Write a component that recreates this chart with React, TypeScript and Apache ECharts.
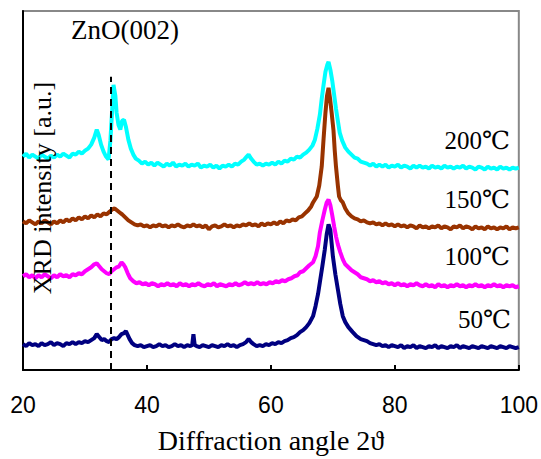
import React, { useEffect, useRef } from "react";
import * as echarts from "echarts";

// 2θ (deg) vs XRD intensity (a.u., offset traces)
const series200: number[][] = [[20,214],[20.5,217],[21,213],[21.5,216],[22,214],[22.5,212],[23,216],[23.5,214],[24,212],[24.5,215],[25,213],[25.5,216],[26,214],[26.5,217],[27,215],[27.5,213],[28,217],[28.5,216],[29,219],[29.5,217],[30,220],[30.5,222],[31,226],[31.5,233],[31.9,241],[32.2,236],[32.6,226],[33,219],[33.4,214],[33.8,211],[34.1,230],[34.4,262],[34.6,286],[34.9,275],[35.1,258],[35.4,246],[35.7,241],[36,250],[36.3,251],[36.6,244],[37,231],[37.4,222],[37.8,216],[38.2,212],[38.7,210],[39.2,207],[39.7,209],[40.2,206],[40.7,208],[41.2,205],[41.7,208],[42.2,206],[42.7,204],[43.2,207],[43.7,205],[44.2,208],[44.7,204],[45.2,206],[45.7,205],[46.2,207],[46.7,204],[47.2,206],[47.7,205],[48.2,207],[48.7,203],[49.2,205],[49.7,204],[50.2,206],[50.7,203],[51.2,205],[51.7,202],[52.2,205],[52.7,204],[53.2,206],[53.7,204],[54.2,207],[54.7,206],[55.2,209],[55.7,211],[56.1,214],[56.4,216],[56.8,212],[57.2,209],[57.7,206],[58.2,207],[58.7,205],[59.2,207],[59.7,206],[60.2,208],[60.7,206],[61.2,209],[61.7,207],[62.2,210],[62.7,209],[63.2,212],[63.7,211],[64.2,214],[64.7,213],[65.2,216],[65.7,218],[66.2,221],[66.7,225],[67.1,231],[67.5,242],[67.9,256],[68.2,272],[68.5,286],[68.8,299],[69.1,306],[69.3,309],[69.6,301],[69.9,290],[70.2,276],[70.5,262],[70.8,250],[71.1,238],[71.5,230],[72,223],[72.5,219],[73,216],[73.5,213],[74,212],[74.5,209],[75,208],[75.5,207],[76,205],[76.5,207],[77,204],[77.5,206],[78,204],[78.5,206],[79,203],[79.5,205],[80,204],[80.5,206],[81,203],[81.5,205],[82,204],[82.5,202],[83,205],[83.5,203],[84,205],[84.5,203],[85,204],[85.5,202],[86,205],[86.5,203],[87,204],[87.5,202],[88,205],[88.5,203],[89,204],[89.5,202],[90,204],[90.5,203],[91,205],[91.5,202],[92,204],[92.5,203],[93,201],[93.5,204],[94,203],[94.5,201],[95,204],[95.5,202],[96,203],[96.5,201],[97,204],[97.5,202],[98,203],[98.5,201],[99,203],[99.5,202],[100,203]];

const series150: number[][] = [[20,149],[20.5,147],[21,150],[21.5,148],[22,146],[22.5,149],[23,147],[23.5,150],[24,148],[24.5,146],[25,149],[25.5,147],[26,150],[26.5,148],[27,151],[27.5,149],[28,152],[28.5,150],[29,153],[29.5,151],[30,154],[30.5,152],[31,155],[31.5,153],[32,156],[32.5,154],[33,157],[33.5,156],[34,159],[34.4,161],[34.8,162],[35.2,160],[35.6,158],[36,156],[36.5,153],[37,150],[37.5,148],[38,146],[38.5,145],[39,146],[39.5,144],[40,145],[40.5,143],[41,145],[41.5,144],[42,146],[42.5,144],[43,145],[43.5,143],[44,145],[44.5,144],[45,146],[45.5,144],[46,143],[46.5,145],[47,144],[47.5,146],[48,144],[48.5,145],[49,143],[49.5,145],[50,141],[50.5,144],[51,145],[51.5,143],[52,144],[52.5,146],[53,144],[53.5,145],[54,143],[54.5,145],[55,144],[55.5,146],[56,145],[56.5,147],[57,145],[57.5,146],[58,144],[58.5,147],[59,145],[59.5,147],[60,146],[60.5,148],[61,146],[61.5,149],[62,147],[62.5,150],[63,149],[63.5,151],[64,150],[64.5,153],[65,154],[65.5,157],[66,160],[66.5,164],[66.8,168],[67.1,171],[67.4,174],[67.8,185],[68.2,204],[68.5,232],[68.8,258],[69.05,275],[69.3,283],[69.55,272],[69.8,258],[70.1,240],[70.3,220],[70.5,204],[70.8,185],[71,174],[71.3,170],[71.6,168],[72,162],[72.5,157],[73,154],[73.5,152],[74,151],[74.5,149],[75,150],[75.5,148],[76,147],[76.5,148],[77,146],[77.5,147],[78,145],[78.5,147],[79,145],[79.5,146],[80,144],[80.5,146],[81,144],[81.5,145],[82,143],[82.5,145],[83,144],[83.5,142],[84,145],[84.5,143],[85,144],[85.5,142],[86,144],[86.5,143],[87,145],[87.5,142],[88,144],[88.5,143],[89,141],[89.5,144],[90,143],[90.5,145],[91,142],[91.5,144],[92,143],[92.5,141],[93,144],[93.5,142],[94,143],[94.5,141],[95,144],[95.5,142],[96,143],[96.5,141],[97,143],[97.5,142],[98,144],[98.5,141],[99,143],[99.5,142],[100,143]];

const series100: number[][] = [[20,94],[20.5,96],[21,93],[21.5,95],[22,92],[22.5,95],[23,93],[23.5,96],[24,94],[24.5,92],[25,95],[25.5,93],[26,96],[26.5,94],[27,95],[27.5,93],[28,96],[28.5,95],[29,97],[29.5,96],[30,99],[30.5,101],[31,103],[31.5,106],[31.9,107],[32.3,104],[32.7,101],[33.1,99],[33.5,97],[33.9,96],[34.3,99],[34.7,101],[35.1,103],[35.5,104],[35.9,108],[36.2,106],[36.5,103],[36.9,97],[37.3,92],[37.8,89],[38.3,87],[38.8,88],[39.3,86],[39.8,87],[40.3,85],[40.8,87],[41.3,86],[41.8,84],[42.3,86],[42.8,85],[43.3,87],[43.8,85],[44.3,86],[44.8,84],[45.3,87],[45.8,85],[46.3,86],[46.8,84],[47.3,86],[47.8,85],[48.3,87],[48.8,85],[49.3,84],[49.8,86],[50.3,85],[50.8,87],[51.3,84],[51.8,86],[52.3,85],[52.8,84],[53.3,86],[53.8,85],[54.3,87],[54.8,85],[55.3,86],[55.8,88],[56.3,86],[56.8,87],[57.3,86],[57.8,88],[58.3,86],[58.8,87],[59.3,86],[59.8,88],[60.3,87],[60.8,89],[61.3,88],[61.8,90],[62.3,89],[62.8,91],[63.3,92],[63.8,94],[64.3,95],[64.7,98],[65.2,99],[65.7,102],[66.2,105],[66.8,108],[67.2,114],[67.6,124],[67.9,138],[68.3,150],[68.7,161],[69,168],[69.3,171],[69.6,165],[69.9,155],[70.2,144],[70.5,134],[70.8,126],[71.2,118],[71.6,111],[72,106],[72.5,103],[73,100],[73.5,98],[74,96],[74.5,93],[75,92],[75.5,91],[76,89],[76.5,90],[77,88],[77.5,89],[78,87],[78.5,88],[79,86],[79.5,87],[80,85],[80.5,87],[81,85],[81.5,86],[82,84],[82.5,86],[83,85],[83.5,87],[84,85],[84.5,84],[85,86],[85.5,84],[86,85],[86.5,83],[87,86],[87.5,84],[88,85],[88.5,83],[89,85],[89.5,84],[90,86],[90.5,84],[91,85],[91.5,83],[92,85],[92.5,84],[93,86],[93.5,84],[94,85],[94.5,83],[95,85],[95.5,84],[96,86],[96.5,84],[97,85],[97.5,83],[98,85],[98.5,84],[99,85],[99.5,83],[100,84]];

const series50: number[][] = [[20,26],[20.5,24],[21,27],[21.5,25],[22,26],[22.5,24],[23,27],[23.5,25],[24,26],[24.5,28],[25,25],[25.5,27],[26,26],[26.5,24],[27,27],[27.5,26],[28,28],[28.5,26],[29,28],[29.5,27],[30,29],[30.5,28],[31,30],[31.5,32],[31.9,36],[32.3,33],[32.7,30],[33.1,31],[33.5,29],[33.9,28],[34.3,31],[34.7,32],[35.1,31],[35.5,33],[35.9,36],[36.3,37],[36.6,39],[36.9,35],[37.2,31],[37.6,27],[38,25],[38.5,24],[39,25],[39.5,23],[40,24],[40.5,25],[41,23],[41.5,24],[42,26],[42.5,24],[43,25],[43.5,23],[44,24],[44.5,26],[45,24],[45.5,25],[46,23],[46.5,25],[47,24],[47.3,25],[47.5,36],[47.7,25],[48,24],[48.5,23],[49,25],[49.5,24],[50,23],[50.5,25],[51,24],[51.5,23],[52,25],[52.5,24],[53,26],[53.5,24],[54,25],[54.5,23],[55,25],[55.5,26],[56,28],[56.4,31],[56.8,28],[57.2,26],[57.7,24],[58.2,25],[58.7,24],[59.2,26],[59.7,25],[60.2,27],[60.7,26],[61.2,28],[61.7,27],[62.2,29],[62.7,30],[63.2,32],[63.7,33],[64.2,35],[64.7,38],[65.2,40],[65.7,43],[66.2,47],[66.8,54],[67.2,64],[67.6,76],[67.9,88],[68.3,104],[68.7,121],[69,136],[69.3,146],[69.6,140],[69.8,127],[70,114],[70.4,96],[70.8,81],[71.2,66],[71.6,54],[72,48],[72.5,43],[73.2,38],[73.8,34],[74.5,31],[75.5,29],[76,27],[76.5,26],[77,25],[77.5,26],[78,24],[78.5,25],[79,23],[79.5,25],[80,24],[80.5,23],[81,25],[81.5,22],[82,24],[82.5,23],[83,25],[83.5,22],[84,24],[84.5,23],[85,22],[85.5,24],[86,23],[86.5,25],[87,22],[87.5,24],[88,23],[88.5,22],[89,24],[89.5,23],[90,25],[90.5,22],[91,24],[91.5,23],[92,22],[92.5,24],[93,23],[93.5,22],[94,24],[94.5,23],[95,22],[95.5,24],[96,23],[96.5,22],[97,24],[97.5,23],[98,22],[98.5,24],[99,23],[99.5,22],[100,23]];

const seriesNames = ["200℃", "150℃", "100℃", "50℃"];
const seriesColors = ["#00FFFF", "#993300", "#FF00FF", "#000080"];
const xTicks = [20, 40, 60, 80, 100];
const zno002Angle = 34.2;
const zno002Line: number[][] = [[zno002Angle, 0], [zno002Angle, 294]];

const SERIF = '"Liberation Serif", "DejaVu Serif", "Times New Roman", serif';

export default function App() {
  const ref = useRef<HTMLDivElement>(null);
  useEffect(() => {
    if (!ref.current) return;
    const chart = echarts.init(ref.current, undefined, { renderer: "svg" });
    const allData = [series200, series150, series100, series50];
    chart.setOption({
      animation: false,
      backgroundColor: "#ffffff",
      grid: {
        left: 23, right: 22, top: 11, bottom: 89,
        show: true, borderColor: "#888888", borderWidth: 2, backgroundColor: "transparent",
      },
      xAxis: {
        type: "value", min: xTicks[0], max: xTicks[xTicks.length - 1], interval: 20,
        axisLine: { show: true, onZero: false, lineStyle: { color: "#000", width: 2 } },
        axisTick: { show: true, inside: true, length: 5, lineStyle: { color: "#000", width: 2 } },
        axisLabel: {
          color: "#000", fontSize: 23, margin: 23,
          fontFamily: '"Liberation Sans", Arial, sans-serif',
        },
        splitLine: { show: false },
      },
      yAxis: {
        type: "value", min: 0, max: 360,
        axisLine: { show: true, lineStyle: { color: "#000", width: 2 } },
        axisTick: { show: false }, axisLabel: { show: false }, splitLine: { show: false },
      },
      graphic: [
        { type: "text", x: 42, y: 188, rotation: Math.PI / 2, z: 100,
          style: { text: "XRD intensity [a.u.]", fill: "#000", font: `26px ${SERIF}`, align: "center", verticalAlign: "middle" } },
        { type: "text", x: 271, y: 440, z: 100,
          style: { text: "Diffraction angle 2ϑ", fill: "#000", font: `28px ${SERIF}`, align: "center", verticalAlign: "middle" } },
        { type: "text", x: 125, y: 30, z: 100,
          style: { text: "ZnO(002)", fill: "#000", font: `27px ${SERIF}`, align: "center", verticalAlign: "middle" } },
        { type: "text", x: 510, y: 140, z: 100,
          style: { text: seriesNames[0], fill: "#000", font: `25px ${SERIF}`, align: "right", verticalAlign: "middle" } },
        { type: "text", x: 510, y: 199, z: 100,
          style: { text: seriesNames[1], fill: "#000", font: `25px ${SERIF}`, align: "right", verticalAlign: "middle" } },
        { type: "text", x: 510, y: 256, z: 100,
          style: { text: seriesNames[2], fill: "#000", font: `25px ${SERIF}`, align: "right", verticalAlign: "middle" } },
        { type: "text", x: 511, y: 319, z: 100,
          style: { text: seriesNames[3], fill: "#000", font: `25px ${SERIF}`, align: "right", verticalAlign: "middle" } },
      ],
      series: [
        ...allData.map((d, i) => ({
          name: seriesNames[i], type: "line", data: d, showSymbol: false, symbol: "none",
          lineStyle: { color: seriesColors[i], width: 4 }, z: 2 + i,
        })),
        {
          name: "ZnO(002)", type: "line", data: zno002Line, showSymbol: false, symbol: "none",
          lineStyle: { color: "#000", width: 2, type: [7, 5] }, z: 10,
        },
      ],
    });
    return () => chart.dispose();
  }, []);
  return <div ref={ref} style={{ position: "fixed", left: 0, top: 0, width: 541, height: 459 }} />;
}
